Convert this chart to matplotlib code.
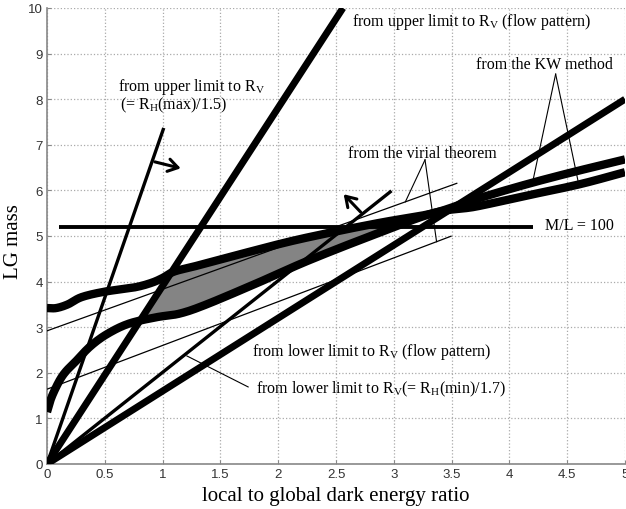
import matplotlib
matplotlib.use("Agg")
import matplotlib.pyplot as plt
import numpy as np

plt.rcParams["font.family"] = ["Liberation Serif", "DejaVu Serif"]
plt.rcParams["mathtext.fontset"] = "custom"
plt.rcParams["mathtext.rm"] = "Liberation Serif"
plt.rcParams["mathtext.it"] = "Liberation Serif:italic"

# straight lines from the origin: ([x0, x1], [y0, y1])
upper_flow = ([0, 2.56], [0, 10.0])
upper_rv = ([0, 1.01], [0, 7.37])
lower_flow = ([0, 5.0], [0, 8.0])
lower_rv = ([0, 2.98], [0, 5.99])

# virial theorem bounds
virial_hi = ([0, 3.55], [2.92, 6.16])
virial_lo = ([0, 3.5], [1.64, 5.0])

# KW method curves
kw_hi_x = [0, 0.08, 0.18, 0.3, 0.5, 0.75, 0.9, 1.0, 1.1, 1.3, 1.67, 2.1, 2.5,
           2.9, 3.34, 3.7, 4.1, 4.5, 5.0]
kw_hi_y = [3.42, 3.42, 3.5, 3.66, 3.78, 3.87, 3.97, 4.08, 4.22, 4.35, 4.6, 4.88,
           5.1, 5.3, 5.5, 5.8, 6.1, 6.37, 6.68]
kw_lo_x = [0, 0.03, 0.07, 0.12, 0.17, 0.23, 0.37, 0.52, 0.71, 0.95, 1.15, 1.38,
           1.82, 2.25, 2.8, 3.34, 3.7, 4.1, 4.6, 5.0]
kw_lo_y = [1.14, 1.4, 1.64, 1.88, 2.05, 2.2, 2.57, 2.85, 3.08, 3.22, 3.3, 3.5,
           3.97, 4.45, 5.0, 5.5, 5.64, 5.86, 6.13, 6.4]

ml_y = 5.2
ml_x = [0.1, 4.2]

x_ticks = np.arange(0, 5.01, 0.5)
x_tick_labels = ["0", "0.5", "1", "1.5", "2", "2.5", "3", "3.5", "4", "4.5", "5"]
y_ticks = np.arange(0, 11, 1)


def smooth(xp, yp, n=20):
    # catmull-rom through the read-off points, just for a smoother stroke
    p = np.column_stack([xp, yp]).astype(float)
    p = np.vstack([2 * p[0] - p[1], p, 2 * p[-1] - p[-2]])
    t = np.linspace(0, 1, n, endpoint=False)[:, None]
    out = []
    for i in range(1, len(p) - 2):
        p0, p1, p2, p3 = p[i - 1], p[i], p[i + 1], p[i + 2]
        seg = 0.5 * ((2 * p1) + (-p0 + p2) * t + (2 * p0 - 5 * p1 + 4 * p2 - p3) * t ** 2
                     + (-p0 + 3 * p1 - 3 * p2 + p3) * t ** 3)
        out.append(seg)
    out.append(p[-2][None, :])
    out = np.vstack(out)
    return out[:, 0], out[:, 1]


hx, hy = smooth(kw_hi_x, kw_hi_y)
lx, ly = smooth(kw_lo_x, kw_lo_y)

fig = plt.figure(figsize=(6.26, 5.10), dpi=100)
ax = fig.add_axes([47 / 626, 45 / 510, 578 / 626, 456 / 510])

# shaded overlap region
xs = np.linspace(0, 3.34, 400)
hi = np.interp(xs, hx, hy)
lo = np.interp(xs, lx, ly)
top = np.minimum(hi, xs * upper_flow[1][1] / upper_flow[0][1])
ax.fill_between(xs, lo, top, where=top > lo, color="#848484", lw=0, zorder=2)

kw = dict(color="black", solid_capstyle="butt", solid_joinstyle="round", zorder=3)
ax.plot(*upper_flow, lw=5, **kw)
ax.plot(*lower_flow, lw=5, **kw)
ax.plot(*upper_rv, lw=2.4, **kw)
ax.plot(*lower_rv, lw=2.4, **kw)
ax.plot(*virial_hi, lw=0.9, **kw)
ax.plot(*virial_lo, lw=0.9, **kw)
ax.plot(hx, hy, lw=6, **kw)
ax.plot(lx, ly, lw=6, **kw)
ax.plot(ml_x, [ml_y, ml_y], lw=2.8, **kw)

# direction arrows
arr = dict(arrowstyle="->,head_length=0.7,head_width=0.45", lw=2.2, color="black")
ax.annotate("", xy=(1.18, 6.47), xytext=(0.91, 6.64), arrowprops=arr, zorder=4)
ax.annotate("", xy=(2.55, 5.96), xytext=(2.73, 5.48), arrowprops=arr, zorder=4)

# pointer lines
pl = dict(color="black", lw=0.8, zorder=4)
ax.plot([4.40, 4.2], [8.55, np.interp(4.2, hx, hy)], **pl)
ax.plot([4.40, 4.6], [8.55, np.interp(4.6, lx, ly)], **pl)
ax.plot([3.27, 3.1], [6.67, np.interp(3.1, *virial_hi)], **pl)
ax.plot([3.27, 3.37], [6.67, np.interp(3.37, *virial_lo)], **pl)
ax.plot([1.21, 1.74], [2.37, 1.69], **pl)

fs = 11.5
t = dict(fontsize=fs, va="center", ha="left", zorder=5)
ax.text(2.64, 9.71, r"from upper limit to R$_\mathrm{V}$ (flow pattern)", **t)
ax.text(0.61, 8.29, r"from upper limit to R$_\mathrm{V}$", **t)
ax.text(0.63, 7.88, r"(= R$_\mathrm{H}$(max)/1.5)", **t)
ax.text(3.71, 8.77, "from the KW method", **t)
ax.text(2.60, 6.82, "from the virial theorem", **t)
ax.text(4.31, 5.24, "M/L = 100", **t)
ax.text(1.77, 2.48, r"from lower limit to R$_\mathrm{V}$ (flow pattern)", **t)
ax.text(1.81, 1.66, r"from lower limit to R$_\mathrm{V}$(= R$_\mathrm{H}$(min)/1.7)", **t)

ax.set_xlim(0, 5)
ax.set_ylim(0, 10)
ax.set_xticks(x_ticks)
ax.set_xticklabels(x_tick_labels)
ax.set_yticks(y_ticks)
for lab in ax.get_xticklabels() + ax.get_yticklabels():
    lab.set_family("Liberation Sans")
    lab.set_fontsize(9.5)
    lab.set_color("#333333")
ax.tick_params(direction="in", length=3, color="#888888", pad=3)
ax.grid(True, linestyle=":", color="#aaaaaa", lw=0.9)
ax.set_axisbelow(True)
for s in ["top", "right"]:
    ax.spines[s].set_visible(False)
for s in ["left", "bottom"]:
    ax.spines[s].set_color("#888888")
    ax.spines[s].set_linewidth(1.2)

ax.set_xlabel("local to global dark energy ratio", fontsize=15, labelpad=4)
ax.set_ylabel("LG mass", fontsize=15, va="center")
ax.yaxis.set_label_coords(-0.058, 0.49)

fig.savefig("out.png", dpi=100)
